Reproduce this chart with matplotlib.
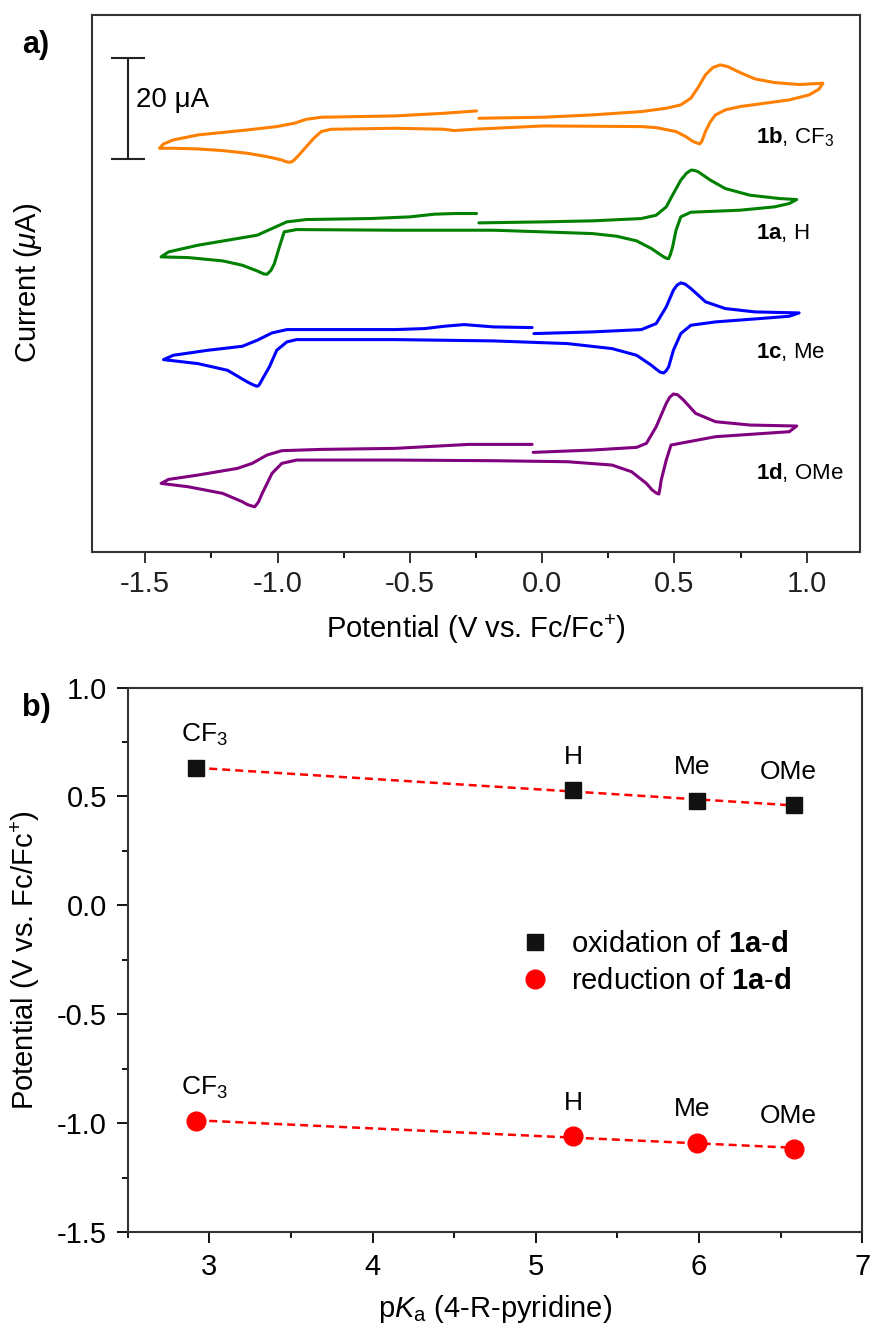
import numpy as np
import matplotlib
matplotlib.use("Agg")
import matplotlib.pyplot as plt

plt.rcParams['font.family'] = ['Liberation Sans', 'DejaVu Sans']
plt.rcParams['mathtext.fontset'] = 'custom'
plt.rcParams['mathtext.rm'] = 'Liberation Sans'
plt.rcParams['mathtext.it'] = 'Liberation Sans:italic'
plt.rcParams['mathtext.bf'] = 'Liberation Sans:bold'
plt.rcParams['axes.unicode_minus'] = False

# ---- panel a: cyclic voltammograms (potential V vs Fc/Fc+, current uA relative to scan start)
v_1b = [-0.239, 0.003, 0.189, 0.375, 0.469, 0.524, 0.562, 0.590, 0.617, 0.645, 0.673, 0.701,
        0.748, 0.804, 0.878, 0.971, 1.061, 1.046, 1.009, 0.934, 0.841, 0.748, 0.692, 0.655,
        0.636, 0.617, 0.603, 0.595, 0.571, 0.543, 0.506, 0.431, 0.375, 0.003, -0.258, -0.332,
        -0.370, -0.556, -0.798, -0.835, -0.863, -0.891, -0.919, -0.937, -0.946, -0.956, -0.968,
        -0.984, -1.040, -1.114, -1.207, -1.301, -1.394, -1.446, -1.431, -1.394, -1.301, -1.114,
        -1.003, -0.937, -0.891, -0.835, -0.556, -0.370, -0.248]
i_1b = [0.0, 0.2, 0.66, 1.32, 1.98, 2.64, 3.96, 6.14, 8.58, 10.03, 10.56, 10.23, 9.04, 7.79,
        7.06, 6.67, 6.93, 5.74, 4.62, 3.63, 2.97, 2.31, 1.65, 0.66, -0.66, -2.64, -4.62, -5.08,
        -4.62, -3.63, -2.64, -1.85, -1.65, -1.52, -2.18, -2.44, -2.18, -1.98, -2.18, -2.64,
        -3.96, -5.61, -7.26, -8.25, -8.6, -8.71, -8.6, -8.25, -7.59, -6.93, -6.4, -6.07, -5.94,
        -5.94, -5.08, -4.29, -3.3, -2.31, -1.65, -0.99, -0.2, 0.2, 0.46, 0.99, 1.45]

v_1a = [-0.239, 0.003, 0.189, 0.375, 0.431, 0.469, 0.496, 0.524, 0.545, 0.562, 0.575, 0.590,
        0.636, 0.692, 0.785, 0.897, 0.962, 0.934, 0.878, 0.748, 0.562, 0.524, 0.506, 0.493,
        0.485, 0.478, 0.470, 0.462, 0.450, 0.413, 0.357, 0.282, 0.189, -0.183, -0.556, -0.928,
        -0.975, -0.993, -1.012, -1.025, -1.040, -1.052, -1.077, -1.133, -1.207, -1.338, -1.440,
        -1.412, -1.301, -1.152, -1.077, -1.021, -0.965, -0.891, -0.649, -0.500, -0.407, -0.332,
        -0.248]
i_1a = [0.0, 0.2, 0.4, 0.86, 1.52, 3.17, 5.81, 8.45, 9.8, 10.43, 10.4, 10.1, 8.45, 6.8, 5.48,
        4.82, 4.62, 3.83, 3.17, 2.51, 2.11, 1.19, -1.45, -4.75, -6.2, -7.06, -7.0, -6.8, -6.4,
        -5.08, -3.56, -2.64, -2.11, -1.45, -1.45, -1.32, -1.78, -4.75, -8.05, -9.4, -10.17,
        -10.1, -9.5, -8.38, -7.52, -6.86, -6.73, -5.74, -4.42, -3.1, -2.44, -1.12, 0.2, 0.66,
        0.86, 1.19, 1.72, 1.85, 1.85]

v_1c = [-0.031, 0.189, 0.375, 0.431, 0.469, 0.496, 0.510, 0.524, 0.540, 0.562, 0.618, 0.692,
        0.804, 0.971, 0.934, 0.822, 0.655, 0.562, 0.524, 0.496, 0.478, 0.468, 0.459, 0.445,
        0.430, 0.413, 0.357, 0.264, 0.096, -0.183, -0.556, -0.928, -0.965, -1.003, -1.031,
        -1.055, -1.070, -1.077, -1.090, -1.114, -1.189, -1.301, -1.431, -1.394, -1.263, -1.133,
        -1.077, -1.021, -0.965, -0.556, -0.444, -0.370, -0.295, -0.183, -0.038]
i_1c = [0.0, 0.33, 0.79, 1.98, 5.28, 8.58, 9.6, 10.03, 9.8, 8.91, 6.27, 4.95, 4.29, 4.09, 3.43,
        2.97, 2.31, 1.65, 0.0, -3.3, -6.6, -7.4, -7.79, -7.6, -7.0, -6.27, -4.29, -2.97, -1.98,
        -1.45, -1.19, -1.19, -1.65, -3.3, -6.6, -8.8, -10.2, -10.43, -10.2, -9.57, -7.26, -5.94,
        -5.15, -4.29, -3.3, -2.51, -1.32, 0.13, 0.79, 0.79, 0.99, 1.45, 1.78, 1.32, 1.19]

v_1d = [-0.034, 0.189, 0.357, 0.394, 0.431, 0.469, 0.482, 0.496, 0.512, 0.534, 0.580, 0.655,
        0.785, 0.962, 0.934, 0.841, 0.655, 0.487, 0.469, 0.450, 0.445, 0.441, 0.430, 0.415,
        0.394, 0.338, 0.264, 0.096, -0.183, -0.556, -0.928, -0.984, -1.021, -1.058, -1.072,
        -1.086, -1.098, -1.115, -1.133, -1.207, -1.338, -1.440, -1.412, -1.301, -1.152, -1.096,
        -1.040, -0.984, -0.835, -0.556, -0.370, -0.276, -0.038]
i_1d = [0.0, 0.46, 0.99, 1.78, 5.08, 9.7, 10.9, 11.55, 11.4, 10.36, 7.72, 6.07, 5.41, 5.21,
        4.09, 3.76, 3.1, 1.45, -1.52, -5.48, -7.2, -8.25, -8.0, -7.4, -6.14, -3.83, -2.51,
        -1.85, -1.65, -1.52, -1.52, -2.18, -4.16, -8.12, -9.8, -10.76, -10.6, -10.3, -9.77,
        -8.12, -6.8, -6.14, -5.35, -4.49, -3.17, -2.18, -0.53, 0.33, 0.59, 0.79, 1.32, 1.58,
        1.58]

cv_labels = [r'$\mathbf{1b}$, CF$_3$', r'$\mathbf{1a}$, H', r'$\mathbf{1c}$, Me', r'$\mathbf{1d}$, OMe']
cv_colors = ['#ff8000', '#008000', '#0000ff', '#800080']

# ---- panel b: potentials vs pKa
substituents = ['CF$_3$', 'H', 'Me', 'OMe']
pka = [2.92, 5.23, 5.99, 6.58]
e_ox = [0.63, 0.53, 0.48, 0.46]
e_red = [-0.99, -1.06, -1.09, -1.12]

fig = plt.figure(figsize=(8.71, 13.30), dpi=100)

# panel a
ax1 = fig.add_axes([0.106, 0.585, 0.881, 0.404])
offsets = [85.8, 65.1, 43.2, 19.7]
label_y = [82.1, 63.1, 39.5, 15.8]
curves = [(v_1b, i_1b), (v_1a, i_1a), (v_1c, i_1c), (v_1d, i_1d)]
for (v, i), off, col, lab, ly in zip(curves, offsets, cv_colors, cv_labels, label_y):
    ax1.plot(v, np.array(i) + off, color=col, lw=2.2, solid_joinstyle='round',
             solid_capstyle='round')
    ax1.text(0.808, ly, lab, fontsize=16, va='center', ha='left')

# 20 uA scale bar
ax1.errorbar([-1.567], [87.8], yerr=[10], color='#222222', lw=1.5, capsize=12, capthick=1.5)
ax1.text(-1.535, 89.4, '20 μA', fontsize=20, va='center', ha='left')

ax1.set_xlim(-1.7, 1.2)
ax1.set_ylim(0, 106.3)
ax1.set_yticks([])
ax1.set_xticks([-1.5, -1.0, -0.5, 0.0, 0.5, 1.0])
ax1.set_xticks(np.arange(-1.5, 1.2, 0.25), minor=True)
ax1.tick_params(axis='x', which='major', length=8, width=1.3, direction='out',
                labelsize=21, pad=5, colors='#222222')
ax1.tick_params(axis='x', which='minor', length=4, width=1.3, direction='out')
ax1.set_ylabel('Current ($\\mu$A)', fontsize=21)
ax1.yaxis.set_label_coords(-0.063, 0.5)
ax1.set_xlabel('Potential (V vs. Fc/Fc$^{+}$)', fontsize=21)
ax1.xaxis.set_label_coords(0.5, -0.113)
for s in ax1.spines.values():
    s.set_linewidth(1.5)
    s.set_color('#333333')

# panel b
ax2 = fig.add_axes([0.1466, 0.0737, 0.8434, 0.4093])
fit_ox = np.polyfit(pka, e_ox, 1)
fit_red = np.polyfit(pka, e_red, 1)
xx = np.array([pka[0], pka[-1]])
ax2.plot(xx, np.polyval(fit_ox, xx), color='#ff0000', lw=1.8, linestyle=(0, (3.2, 2)), zorder=2)
ax2.plot(xx, np.polyval(fit_red, xx), color='#ff0000', lw=1.8, linestyle=(0, (3.2, 2)), zorder=2)
ax2.plot(pka, e_ox, 's', color='#111111', ms=12, zorder=3,
         label='oxidation of $\\mathbf{1a}$-$\\mathbf{d}$')
ax2.plot(pka, e_red, 'o', color='#ff0000', ms=13.5, zorder=3,
         label='reduction of $\\mathbf{1a}$-$\\mathbf{d}$')

dx = [6, 0, -4, -4]
for x, yo, yr, s, d in zip(pka, e_ox, e_red, substituents, dx):
    ax2.annotate(s, (x, yo), xytext=(d, 19), textcoords='offset points',
                 ha='center', va='baseline', fontsize=19)
    ax2.annotate(s, (x, yr), xytext=(d, 19), textcoords='offset points',
                 ha='center', va='baseline', fontsize=19)

ax2.legend(loc='center left', bbox_to_anchor=(0.536, 0.495), frameon=False, fontsize=21,
           handlelength=0.9, handletextpad=0.8, borderpad=0, borderaxespad=0,
           labelspacing=0.3, numpoints=1)

ax2.set_xlim(2.5, 7)
ax2.set_ylim(-1.5, 1.0)
ax2.set_xticks([3, 4, 5, 6, 7])
ax2.set_xticks(np.arange(2.5, 7.01, 0.5), minor=True)
ax2.set_yticks([-1.5, -1.0, -0.5, 0.0, 0.5, 1.0])
ax2.set_yticks(np.arange(-1.5, 1.01, 0.25), minor=True)
ax2.yaxis.set_major_formatter(plt.FormatStrFormatter('%.1f'))
ax2.tick_params(which='major', length=8, width=1.3, direction='out', labelsize=21, pad=7)
ax2.tick_params(which='minor', length=4, width=1.3, direction='out')
ax2.set_ylabel('Potential (V vs. Fc/Fc$^{+}$)', fontsize=21)
ax2.yaxis.set_label_coords(-0.117, 0.5)
ax2.set_xlabel('p$K_\\mathrm{a}$ (4-R-pyridine)', fontsize=21)
ax2.xaxis.set_label_coords(0.5, -0.112)
for s in ax2.spines.values():
    s.set_linewidth(1.5)
    s.set_color('#333333')

fig.text(0.025, 0.966, 'a)', fontsize=22, fontweight='bold', va='center')
fig.text(0.025, 0.468, 'b)', fontsize=22, fontweight='bold', va='center')

fig.savefig('out.png', dpi=100)
